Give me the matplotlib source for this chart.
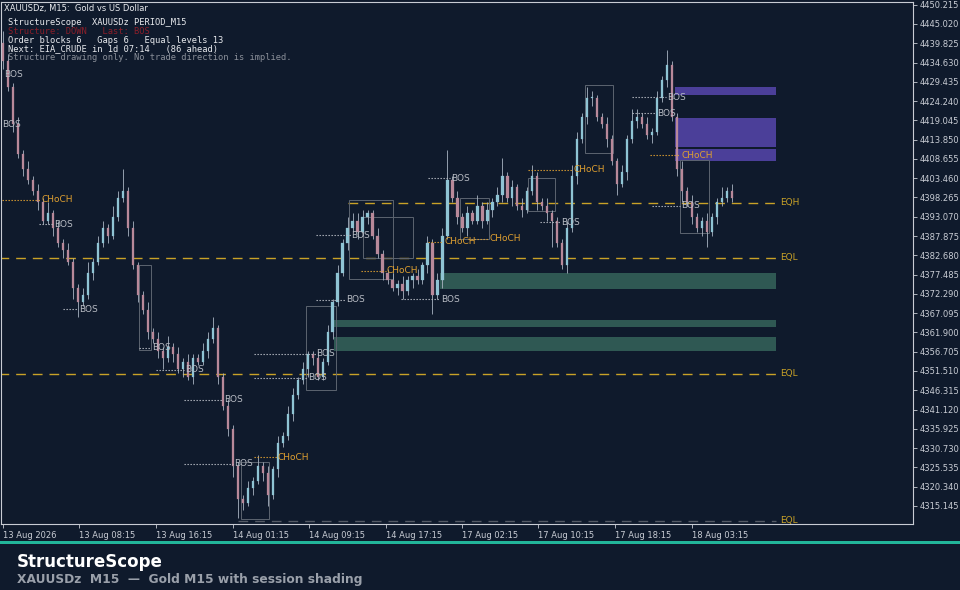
import matplotlib.pyplot as plt
from matplotlib.patches import Rectangle

# closing prices, one bar per slot
closes = [4435, 4428, 4418, 4410, 4406, 4403,
          4400, 4397, 4392, 4394, 4390, 4386,
          4384, 4381, 4374, 4370, 4372, 4378,
          4381, 4386, 4390, 4388, 4393, 4398,
          4400, 4390, 4380, 4372, 4368, 4362,
          4360, 4357, 4355, 4358, 4356, 4352,
          4354, 4350, 4355, 4354, 4357, 4360,
          4363, 4350, 4342, 4336, 4326, 4317,
          4316, 4320, 4322, 4326, 4324, 4318,
          4325, 4332, 4334, 4340, 4345, 4349,
          4352, 4356, 4355, 4350, 4354, 4362,
          4370, 4378, 4386, 4390, 4392, 4389,
          4393, 4394, 4388, 4383, 4378, 4376,
          4374, 4375, 4373, 4376, 4377, 4376,
          4380, 4386, 4372, 4376, 4388, 4403,
          4398, 4393, 4390, 4394, 4392, 4396,
          4392, 4395, 4397, 4399, 4404, 4398,
          4401, 4396, 4395, 4400, 4404, 4397,
          4396, 4394, 4392, 4386, 4380, 4390,
          4404, 4414, 4420, 4425, 4425, 4420,
          4418, 4414, 4408, 4402, 4405, 4414,
          4419, 4420, 4418, 4415, 4416, 4425,
          4430, 4434, 4420, 4406, 4400, 4397,
          4393, 4390, 4392, 4389, 4393, 4397,
          4398, 4400, 4398]
first_open = 4440
wick_up = [3, 2, 1, 2, 1, 2, 1, 2, 1, 3, 1, 2, 1, 2, 1, 1, 2, 3, 1, 2, 2, 1, 3, 2, 6, 1, 2, 1, 1, 2,
           1, 2, 1, 3, 1, 2, 1, 2, 1, 1, 2, 2, 3, 1, 1, 2, 1, 1, 1, 2, 1, 3, 1, 2, 1, 2, 1, 2, 2, 1,
           2, 1, 1, 2, 1, 2, 1, 2, 1, 3, 2, 2, 2, 1, 1, 2, 1, 1, 2, 1, 2, 1, 1, 2, 1, 2, 1, 2, 2, 8,
           1, 2, 1, 2, 1, 3, 1, 2, 1, 2, 5, 1, 2, 1, 2, 1, 3, 1, 1, 2, 1, 1, 1, 2, 3, 2, 1, 3, 2, 1,
           1, 2, 1, 1, 2, 1, 3, 2, 1, 2, 1, 2, 1, 4, 1, 1, 2, 1, 2, 1, 1, 2, 1, 1, 3, 1, 2]
wick_dn = [2, 1, 2, 1, 2, 1, 1, 2, 1, 1, 2, 1, 2, 1, 3, 4, 1, 1, 2, 1, 1, 2, 1, 1, 1, 2, 1, 2, 1, 2,
           1, 2, 3, 1, 2, 1, 2, 1, 2, 1, 1, 2, 1, 2, 1, 2, 3, 5, 2, 1, 2, 1, 2, 3, 1, 2, 1, 1, 2, 1,
           1, 2, 2, 1, 1, 1, 2, 1, 1, 2, 1, 2, 1, 2, 1, 1, 2, 1, 1, 2, 2, 1, 2, 1, 1, 2, 5, 1, 2, 1,
           1, 2, 1, 2, 1, 1, 2, 1, 2, 1, 2, 1, 2, 1, 2, 1, 1, 2, 1, 2, 7, 1, 1, 2, 1, 2, 1, 2, 2, 1,
           1, 2, 1, 3, 1, 2, 1, 2, 1, 1, 2, 1, 1, 2, 1, 2, 3, 1, 2, 1, 2, 4, 1, 2, 1, 1, 1]

y_ticks = [4450.215, 4445.020, 4439.825, 4434.630, 4429.435, 4424.240, 4419.045, 4413.850,
           4408.655, 4403.460, 4398.265, 4393.070, 4387.875, 4382.680, 4377.485, 4372.290,
           4367.095, 4361.900, 4356.705, 4351.510, 4346.315, 4341.120, 4335.925, 4330.730,
           4325.535, 4320.340, 4315.145]
x_tick_pos = [0, 15.2, 30.6, 46, 61.2, 76.6, 92, 107.2, 122.6, 138]
x_tick_labels = ["13 Aug 2026", "13 Aug 08:15", "13 Aug 16:15", "14 Aug 01:15", "14 Aug 09:15",
                 "14 Aug 17:15", "17 Aug 02:15", "17 Aug 10:15", "17 Aug 18:15", "18 Aug 03:15"]

# equal levels
eq_prices = [4396.8, 4382.0, 4350.7, 4311.1]
eq_starts = [69, -1, -1, 47]
eq_labels = ["EQH", "EQL", "EQL", "EQL"]
eq_colors = ["#c9a227", "#c9a227", "#c9a227", "#555b66"]

# order blocks / gaps
bull_zone_start = [87.6, 66.2, 66.2]
bull_zone_low = [4373.6, 4363.4, 4356.9]
bull_zone_high = [4377.9, 4365.3, 4360.7]
bear_zone_start = [134.6, 134.6, 134.6]
bear_zone_low = [4425.9, 4411.9, 4408.1]
bear_zone_high = [4428.1, 4419.7, 4411.4]
zone_end = 154.8

# structure breaks
brk_x0 = [-1, 7.2, 12, 27.2, 30.6, 36.2, 36.2, 50.2, 50.2, 50.2, 62.6, 62.6, 71.6, 85.2, 93.2, 85.2, 79.6, 105.2, 107.6, 126, 126, 129.6, 130]
brk_x1 = [7.6, 10, 15, 29.6, 36.2, 44, 46, 54.8, 62.6, 61, 68.6, 69.6, 76.6, 88.2, 97.2, 89.6, 87.6, 114, 111.6, 132.8, 130.8, 135.6, 135.6]
brk_p = [4397.6, 4391.1, 4368.2, 4357.8, 4351.8, 4343.7, 4326.5, 4328.2, 4356.1, 4349.7, 4370.7, 4388.1, 4378.5, 4386.3, 4387.1, 4403.5, 4370.9, 4405.7, 4391.6, 4425.3, 4421.0, 4409.6, 4396.0]
brk_text = ["CHoCH", "BOS", "BOS", "BOS", "BOS", "BOS", "BOS", "CHoCH", "BOS", "BOS", "BOS", "BOS",
            "CHoCH", "CHoCH", "CHoCH", "BOS", "BOS", "CHoCH", "BOS", "BOS", "BOS", "CHoCH", "BOS"]
loose_text_x = [0.2, -0.2]
loose_text_p = [4431.5, 4418.0]

# swing boxes
box_x0 = [116.6, 135.6, 105.2, 91.6, 69.2, 60.6, 47.6, 27.2, 72]
box_x1 = [122.2, 141.4, 110.6, 97.4, 78, 66.6, 53.2, 29.6, 82]
box_lo = [4410.3, 4388.6, 4394.5, 4387.1, 4376.4, 4346.4, 4311.6, 4357.2, 4382]
box_hi = [4428.6, 4408.4, 4403.6, 4398.0, 4397.6, 4369.0, 4327.0, 4380, 4393]

BG = "#0f1a2c"
UP = "#8fc4d4"
DN = "#b8899a"
GRID_TXT = "#c8ccd4"

fig = plt.figure(figsize=(9.6, 5.9), dpi=100, facecolor=BG)
ax = fig.add_axes([0.001, 0.112, 0.95, 0.885], facecolor=BG)

opens = [first_open] + closes[:-1]
for i, (o, c) in enumerate(zip(opens, closes)):
    hi = max(o, c) + wick_up[i]
    lo = min(o, c) - wick_dn[i]
    col = UP if c >= o else DN
    ax.vlines(i, lo, hi, color="#a9b4c2", lw=0.6, zorder=3)
    ax.add_patch(Rectangle((i - 0.22, min(o, c)), 0.44, max(abs(c - o), 0.3),
                           facecolor=col, edgecolor=col, lw=0.2, zorder=4))

for z0, lo, hi in zip(bull_zone_start, bull_zone_low, bull_zone_high):
    ax.add_patch(Rectangle((z0, lo), zone_end - z0, hi - lo, facecolor="#2f5853", edgecolor="none", zorder=2))
for z0, lo, hi in zip(bear_zone_start, bear_zone_low, bear_zone_high):
    ax.add_patch(Rectangle((z0, lo), zone_end - z0, hi - lo, facecolor="#4b3f99", edgecolor="none", zorder=2))

for p, s, lab, col in zip(eq_prices, eq_starts, eq_labels, eq_colors):
    ax.plot([s, zone_end], [p, p], color=col, lw=1.0, ls=(0, (7, 5)), zorder=2)
    ax.text(zone_end + 0.8, p, lab, color="#c9a227", fontsize=6.5, va="center", zorder=6)

for x0, x1, lo, hi in zip(box_x0, box_x1, box_lo, box_hi):
    ax.add_patch(Rectangle((x0, lo), x1 - x0, hi - lo, facecolor="none", edgecolor="#5c6470", lw=0.7, zorder=2))

for x0, x1, p, t in zip(brk_x0, brk_x1, brk_p, brk_text):
    col = "#e0a030" if t == "CHoCH" else "#b8bcc4"
    ax.plot([x0, x1], [p, p], color=col, lw=0.8, ls=(0, (1.2, 1.5)), zorder=5)
    ax.text(x1 + 0.2, p, t, color=col, fontsize=6.5, va="center", zorder=6)
for x, p in zip(loose_text_x, loose_text_p):
    ax.text(x, p, "BOS", color="#b8bcc4", fontsize=6.5, va="center", zorder=6)

ax.set_xlim(-0.4, 182.2)
ax.set_ylim(4310.3, 4451.0)
ax.yaxis.tick_right()
ax.set_yticks(y_ticks)
ax.set_yticklabels([f"{v:.3f}" for v in y_ticks])
ax.set_xticks(x_tick_pos)
ax.set_xticklabels(x_tick_labels, ha="left")
ax.tick_params(colors=GRID_TXT, labelsize=6, length=3, width=0.6, pad=2)
for s in ax.spines.values():
    s.set_color("#c8ccd4")
    s.set_linewidth(0.8)

# header block
ax.text(0.003, 0.995, "XAUUSDz, M15:  Gold vs US Dollar", transform=ax.transAxes,
        color="#e8eaee", fontsize=6, va="top", zorder=7)
hdr_lines = ["StructureScope  XAUUSDz PERIOD_M15", "Structure: DOWN   Last: BOS",
             "Order blocks 6   Gaps 6   Equal levels 13", "Next: EIA_CRUDE in 1d 07:14   (86 ahead)",
             "Structure drawing only. No trade direction is implied."]
hdr_colors = ["#e8eaee", "#8a1f2a", "#e8eaee", "#e8eaee", "#8a8f99"]
for k, (t, c) in enumerate(zip(hdr_lines, hdr_colors)):
    ax.text(0.008, 0.968 - k * 0.0165, t, transform=ax.transAxes, color=c, fontsize=6.3,
            family="DejaVu Sans Mono", va="top", zorder=7)

# footer
fig.add_artist(Rectangle((0, 1 - 544 / 590), 1, 3.5 / 590, transform=fig.transFigure,
                         facecolor="#22b59a", edgecolor="none"))
fig.text(17 / 960, 1 - 562 / 590, "StructureScope", color="white", fontsize=12,
         fontweight="bold", va="center")
fig.text(17 / 960, 1 - 579 / 590, "XAUUSDz  M15  \u2014  Gold M15 with session shading",
         color="#9aa0aa", fontsize=8.8, fontweight="bold", va="center")

fig.savefig("out.png", dpi=100, facecolor=BG)
